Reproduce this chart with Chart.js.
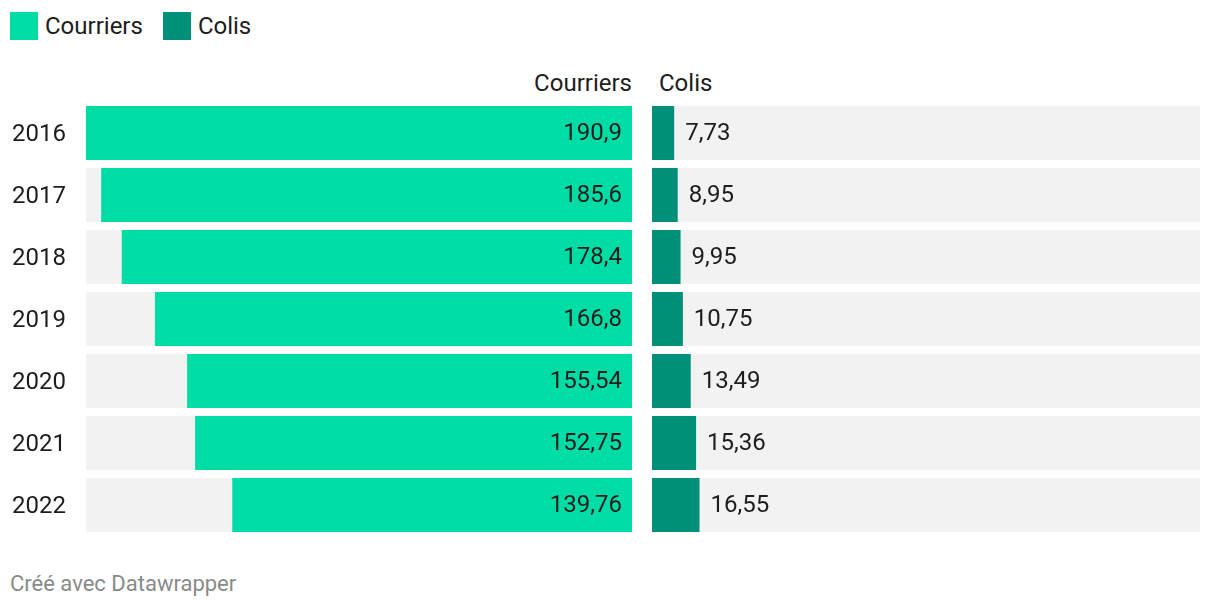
<!DOCTYPE html>
<html>
<head>
<meta charset="utf-8">
<script src="https://cdn.jsdelivr.net/npm/chart.js@4"></script>
<style>
    body { margin: 0; background: #fff; font-family: Roboto, sans-serif; color: #1d1d1d; }
    .page { position: relative; width: 1220px; height: 610px; }
    .legend { position: absolute; left: 10px; top: 12px; display: flex; align-items: center; font-size: 24px; }
    .legend span.sw { display: inline-block; width: 28px; height: 28px; margin-right: 7px; }
    .legend .item { display: flex; align-items: center; margin-right: 20px; }
    .head { position: absolute; top: 69px; font-size: 24px; line-height: 28px; }
    .foot { position: absolute; left: 10px; top: 571px; font-size: 22px; color: #8a8a8a; }
    .box { position: absolute; top: 102px; height: 434px; }
</style>
</head>
<body>
<div class="page">
    <div class="legend">
        <div class="item"><span class="sw" style="background:#00dca6"></span>Courriers</div>
        <div class="item"><span class="sw" style="background:#008f78"></span>Colis</div>
    </div>
    <div class="head" style="right: 588px;">Courriers</div>
    <div class="head" style="left: 659px;">Colis</div>
    <div class="box" style="left: 0; width: 632px;"><canvas id="leftChart"></canvas></div>
    <div class="box" style="left: 652px; width: 548px;"><canvas id="rightChart"></canvas></div>
    <div class="foot">Créé avec Datawrapper</div>
</div>
<script>
const years = ['2016', '2017', '2018', '2019', '2020', '2021', '2022'];
const courriers = [190.9, 185.6, 178.4, 166.8, 155.54, 152.75, 139.76];
const colis = [7.73, 8.95, 9.95, 10.75, 13.49, 15.36, 16.55];
const scaleMax = 190.9;

const green = '#00dca6';
const darkGreen = '#008f78';
const grey = '#f2f2f2';

function fmt(v) {
    return String(v).replace('.', ',');
}

// year labels on the left panel, values inside (left) or after (right) each bar
const valueLabels = {
    id: 'valueLabels',
    afterDatasetsDraw(chart, args, opts) {
        const ctx = chart.ctx;
        const meta = chart.getDatasetMeta(0);
        ctx.save();
        ctx.font = '24px Roboto, sans-serif';
        ctx.fillStyle = '#1d1d1d';
        ctx.textBaseline = 'middle';
        meta.data.forEach(function (bar, i) {
            const v = chart.data.datasets[0].data[i];
            if (opts.inside) {
                ctx.textAlign = 'left';
                ctx.fillText(chart.data.labels[i], 12, bar.y + 2);
                ctx.textAlign = 'right';
                ctx.fillText(fmt(v), bar.base - 10, bar.y + 1);
            } else {
                ctx.textAlign = 'left';
                ctx.fillText(fmt(v), bar.x + 11, bar.y + 1);
            }
        });
        ctx.restore();
    }
};

function makeChart(canvas, values, color, left) {
    return new Chart(canvas.getContext('2d'), {
        type: 'bar',
        data: {
            labels: years,
            datasets: [{
                data: values,
                backgroundColor: color,
                grouped: false,
                categoryPercentage: 1,
                barPercentage: 54 / 62
            }, {
                data: values.map(() => scaleMax),
                backgroundColor: grey,
                grouped: false,
                categoryPercentage: 1,
                barPercentage: 54 / 62
            }]
        },
        options: {
            indexAxis: 'y',
            responsive: true,
            maintainAspectRatio: false,
            animation: false,
            layout: { padding: { left: left ? 86 : 0, right: 0, top: 0, bottom: 0 } },
            plugins: {
                legend: { display: false },
                tooltip: { enabled: false },
                valueLabels: { inside: left }
            },
            scales: {
                x: {
                    display: false,
                    min: 0,
                    max: scaleMax,
                    reverse: left
                },
                y: { display: false }
            }
        },
        plugins: [valueLabels]
    });
}

makeChart(document.getElementById('leftChart'), courriers, green, true);
makeChart(document.getElementById('rightChart'), colis, darkGreen, false);
</script>
</body>
</html>
